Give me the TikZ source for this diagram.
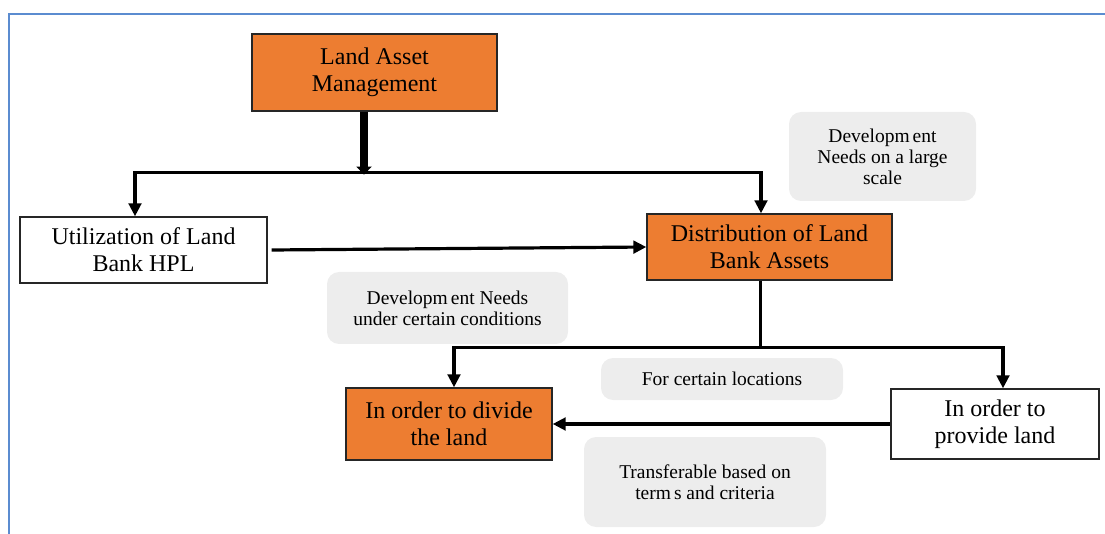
\documentclass[tikz,border=0pt]{standalone}
\usepackage{fontspec}
\setmainfont{Liberation Serif}
\usetikzlibrary{arrows.meta,calc}
\definecolor{orangeA}{HTML}{ED7D31}
\definecolor{greyA}{HTML}{EDEDED}
\definecolor{frameblue}{HTML}{5B8CD0}
\begin{document}
\begin{tikzpicture}[x=1pt,y=-1pt,
  box/.style={draw=black!85,line width=1.3pt,inner sep=0pt,align=center,font=\fontsize{24}{27}\selectfont},
  orangebox/.style={box,fill=orangeA},
  whitebox/.style={box,fill=white},
  note/.style={fill=greyA,rounded corners=12pt,inner sep=0pt,align=center,font=\fontsize{19.5}{21}\selectfont},
  conn/.style={line width=3.2pt,line join=miter},
  arr/.style={conn,-{Triangle[length=13pt,width=12.5pt]}},
  thickarr/.style={line width=8pt,-{Triangle[length=8pt,width=15pt]}}
]
\useasboundingbox (0,0) rectangle (1105,534);
\draw[frameblue,line width=1.5pt] (9,534) -- (9,14) -- (1105,14);

\node[orangebox,minimum width=245pt,minimum height=77pt] (land) at (374.5,72.5) {Land Asset\\Management};
\node[whitebox,minimum width=247pt,minimum height=66pt] (util) at (143.5,250) {Utilization of Land\\Bank HPL};
\node[orangebox,minimum width=245pt,minimum height=66pt] (dist) at (769.5,247) {Distribution of Land\\Bank Assets};
\node[orangebox,minimum width=206pt,minimum height=72pt] (divide) at (449,424) {In order to divide\\the land};
\node[whitebox,minimum width=208pt,minimum height=70pt] (provide) at (995,424) {In order to\\provide land};

\node[note,minimum width=187pt,minimum height=89pt] (n1) at (882.5,156.5) {Developm\kern3pt ent\\Needs on a large\\scale};
\node[note,minimum width=241pt,minimum height=72pt] (n2) at (447.5,308) {Developm\kern3pt ent Needs\\under certain conditions};
\node[note,minimum width=242pt,minimum height=42pt] (n3) at (722,379) {For certain locations};
\node[note,minimum width=242pt,minimum height=90pt] (n4) at (705,482) {Transferable based on\\term\kern3pt s and criteria};

\coordinate (j1) at ($(land.south)+(-10.5,61)$);
\draw[thickarr] ($(land.south)+(-10.5,0)$) -- ($(j1)+(0,2)$);
\draw[arr] (j1) -| ($(util.north)+(-8.5,0)$);
\draw[arr] (j1) -| ($(dist.north)+(-8.5,0)$);

\draw[arr] ([xshift=4pt]util.east) -- (dist.west);

\coordinate (j2) at ($(dist.south)+(-9,67)$);
\draw[conn] ($(dist.south)+(-9,0)$) -- (j2);
\draw[arr] (j2) -| ($(divide.north)+(5,0)$);
\draw[arr] (j2) -| ($(provide.north)+(8,0)$);

\draw[arr] (provide.west) -- (divide.east);
\end{tikzpicture}
\end{document}
